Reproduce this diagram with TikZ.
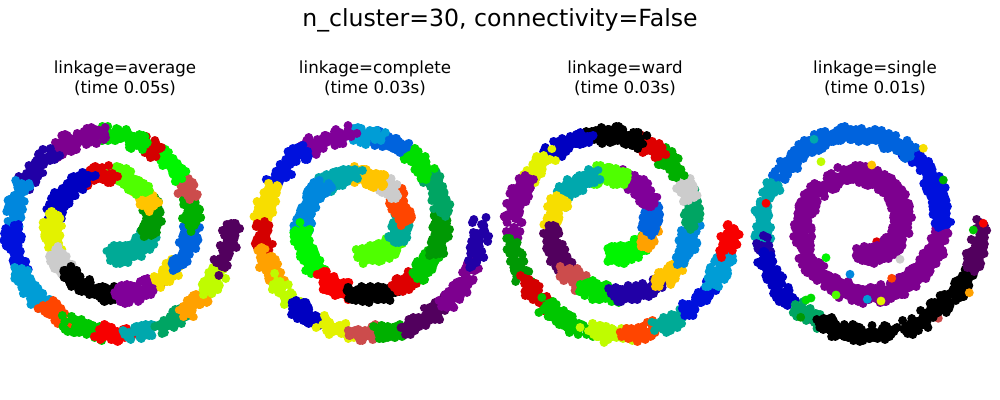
\documentclass[tikz,border=0pt]{standalone}
\usepackage{fontspec}
\setmainfont{DejaVu Sans}
\definecolor{k0}{rgb}{0,0,0}
\definecolor{k1}{rgb}{0.32,0,0.37}
\definecolor{k2}{rgb}{0.49,0,0.56}
\definecolor{k3}{rgb}{0.50,0,0.60}
\definecolor{k4}{rgb}{0.13,0,0.65}
\definecolor{k5}{rgb}{0,0,0.756}
\definecolor{k6}{rgb}{0,0.065,0.867}
\definecolor{k7}{rgb}{0,0.39,0.867}
\definecolor{k8}{rgb}{0,0.53,0.867}
\definecolor{k9}{rgb}{0,0.614,0.84}
\definecolor{k10}{rgb}{0,0.66,0.68}
\definecolor{k11}{rgb}{0,0.667,0.59}
\definecolor{k12}{rgb}{0,0.648,0.39}
\definecolor{k13}{rgb}{0,0.6,0.016}
\definecolor{k14}{rgb}{0,0.69,0}
\definecolor{k15}{rgb}{0,0.78,0}
\definecolor{k16}{rgb}{0,0.87,0}
\definecolor{k17}{rgb}{0,0.96,0}
\definecolor{k18}{rgb}{0.31,1,0}
\definecolor{k19}{rgb}{0.75,0.99,0}
\definecolor{k20}{rgb}{0.89,0.95,0}
\definecolor{k21}{rgb}{0.97,0.87,0}
\definecolor{k22}{rgb}{1,0.77,0}
\definecolor{k23}{rgb}{1,0.63,0}
\definecolor{k24}{rgb}{1,0.27,0}
\definecolor{k25}{rgb}{0.97,0,0}
\definecolor{k26}{rgb}{0.87,0,0}
\definecolor{k27}{rgb}{0.83,0,0}
\definecolor{k28}{rgb}{0.8,0.3,0.3}
\definecolor{k29}{rgb}{0.8,0.8,0.8}
\tikzset{
  paneltitle/.style={anchor=base,font=\fontsize{12}{14}\selectfont,inner sep=0pt},
  suptitle/.style={anchor=base,font=\fontsize{17}{20}\selectfont,inner sep=0pt},
  dots/.style={line width=6.4pt,line cap=round},
  dot/.style={radius=3.2pt}
}
\newcommand\spseg[3]{%
  \pgfmathtruncatemacro\segn{max(1,round(150*(#2-#1)))}%
  \draw[dots,#3] foreach \k [evaluate={\k as \spt using #1+(#2-#1)*rnd},
      evaluate={\k as \spr using 0.7*min(2.1,sqrt(-2*ln(0.0005+0.9995*rnd)))},
      evaluate={\k as \spv using 360*rnd}] in {1,...,\segn}
    { ({\spt*cos(\spt r)+\spr*cos(\spv)},{\spt*sin(\spt r)+\spr*sin(\spv)}) -- ++(0.01pt,0) };%
}
\newcommand\spsegs[1]{\foreach \ta/\tb/\cc in {#1}{\spseg{\ta}{\tb}{\cc}}}
\begin{document}
\begin{tikzpicture}[x=0.72pt,y=-0.72pt]
\useasboundingbox[fill=white] (0,0) rectangle (1000,400);
\pgfmathsetseed{4242}
% panel 1: average
\begin{scope}[shift={(112,224.5)},x=4.558pt,y=4.558pt]
\spsegs{4.712/6.04/k11, 6.04/6.77/k13, 6.77/7.17/k22, 7.17/7.88/k18, 7.88/8.34/k26,
 8.34/9.27/k5, 9.27/9.86/k20, 9.86/10.26/k29, 10.26/11.05/k0, 11.05/11.67/k3,
 11.67/12.0/k21, 12.0/12.55/k7, 12.55/12.92/k14, 12.92/13.19/k28, 13.19/13.58/k17,
 13.58/13.78/k27, 13.78/14.23/k16, 14.23/14.81/k2, 14.81/15.27/k4, 15.27/15.72/k8,
 15.72/16.19/k6, 16.19/16.6/k9, 16.6/16.86/k24, 16.86/17.17/k15, 17.17/17.4/k25,
 17.4/17.68/k10, 17.68/17.96/k12, 17.96/18.23/k23, 18.23/18.48/k19, 18.48/18.85/k1}
\end{scope}
% panel 2: complete
\begin{scope}[shift={(362,224.5)},x=4.558pt,y=4.558pt]
\spsegs{4.712/5.86/k18, 5.86/6.46/k11, 6.46/7.06/k24, 7.06/7.44/k29, 7.44/7.98/k22,
 7.98/8.63/k10, 8.63/9.51/k8, 9.51/10.28/k17, 10.28/10.83/k25, 10.83/11.45/k0,
 11.45/11.82/k26, 11.82/12.16/k15, 12.16/12.7/k13, 12.7/13.18/k12, 13.18/13.6/k16,
 13.6/13.94/k7, 13.94/14.26/k9, 14.26/14.78/k3, 14.78/15.3/k6, 15.3/15.71/k21,
 15.71/15.96/k27, 15.96/16.29/k23, 16.29/16.56/k19, 16.56/16.91/k5, 16.91/17.18/k20,
 17.18/17.42/k28, 17.42/17.67/k14, 17.67/18.08/k1, 18.08/18.5/k2, 18.5/18.85/k4}
\end{scope}
% panel 3: ward
\begin{scope}[shift={(612,224.5)},x=4.558pt,y=4.558pt]
\spsegs{4.712/5.76/k17, 5.76/6.18/k23, 6.18/6.82/k7, 6.82/7.6/k3, 7.6/8.2/k18,
 8.2/8.97/k10, 8.97/9.51/k21, 9.51/10.21/k1, 10.21/10.56/k28, 10.56/11.03/k16,
 11.03/11.67/k4, 11.67/12.06/k22, 12.06/12.55/k8, 12.55/12.92/k12, 12.92/13.21/k29,
 13.21/13.54/k14, 13.54/13.79/k26, 13.79/14.41/k0, 14.41/14.87/k5, 14.87/15.24/k20,
 15.24/15.87/k2, 15.87/16.27/k13, 16.27/16.57/k27, 16.57/17.05/k15, 17.05/17.41/k19,
 17.41/17.68/k24, 17.68/17.98/k11, 17.98/18.3/k6, 18.3/18.6/k9, 18.6/18.85/k25}
\end{scope}
% panel 4: single
\fill[k26] (876.7,241.7) circle[dot];
\fill[k28] (938.3,318.3) circle[dot];
\fill[k3] (811.7,320) circle[dot];
\begin{scope}[shift={(862,224.5)},x=4.558pt,y=4.558pt]
\spsegs{4.712/12.53/k2, 12.53/13.53/k6, 13.53/15.25/k7, 15.25/15.9/k10, 15.9/16.0/k4,
 16.0/16.6/k5, 16.6/16.85/k12, 16.85/18.41/k0, 18.41/18.85/k1}
\end{scope}
\fill[k10] (814,139.3) circle[dot];
\fill[k19] (821,161.7) circle[dot];
\fill[k22] (871.7,165) circle[dot];
\fill[k21] (923.3,148.3) circle[dot];
\fill[k14] (943.3,180) circle[dot];
\fill[k25] (766,203.3) circle[dot];
\fill[k25] (983.3,223.3) circle[dot];
\fill[k15] (973.3,230) circle[dot];
\fill[k29] (900,259.3) circle[dot];
\fill[k17] (826,257.7) circle[dot];
\fill[k8] (850,274.3) circle[dot];
\fill[k24] (891.7,278.3) circle[dot];
\fill[k18] (836,295) circle[dot];
\fill[k9] (867.3,299.3) circle[dot];
\fill[k20] (881,301) circle[dot];
\fill[k23] (969.3,292.7) circle[dot];
\fill[k16] (806,300) circle[dot];
\fill[k16] (811,298) circle[dot];
\fill[k13] (800.7,317.3) circle[dot];
% titles
\node[suptitle] (sup) at (500,26.5) {n\_cluster=30, connectivity=False};
\node[paneltitle] (t1a) at (125,74) {linkage=average};
\node[paneltitle] (t1b) at (125,93.5) {(time 0.05s)};
\node[paneltitle] (t2a) at (375,74) {linkage=complete};
\node[paneltitle] (t2b) at (375,93.5) {(time 0.03s)};
\node[paneltitle] (t3a) at (625,74) {linkage=ward};
\node[paneltitle] (t3b) at (625,93.5) {(time 0.03s)};
\node[paneltitle] (t4a) at (875,74) {linkage=single};
\node[paneltitle] (t4b) at (875,93.5) {(time 0.01s)};
\end{tikzpicture}
\end{document}
